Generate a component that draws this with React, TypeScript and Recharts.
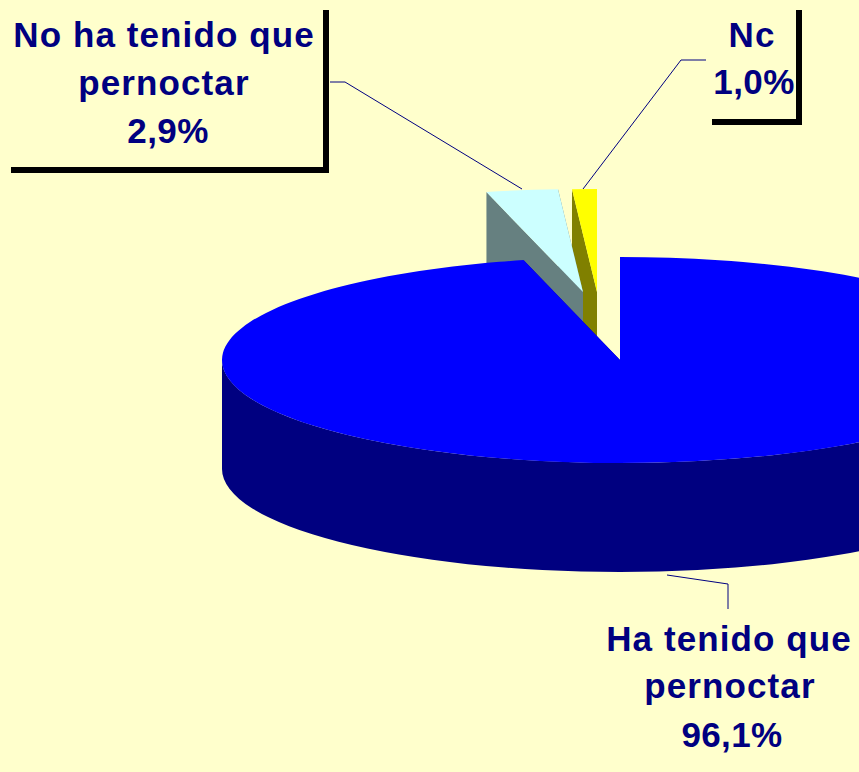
import { PieChart, Pie } from "recharts";

const SLICE_NAMES = ["Nc", "No ha tenido que pernoctar", "Ha tenido que pernoctar"];
const SLICE_VALUES = [1.0, 2.9, 96.1];
const LABEL_LINES = [["Nc"], ["No ha tenido que", "pernoctar"], ["Ha tenido que", "pernoctar"]];

const TOP_COLORS = ["#FFFF00", "#CCFFFF", "#0000FF"];
const SIDE_COLORS = ["#808000", "#668080", "#000080"];
const BG = "#FFFFCC";
const NAVY = "#000080";

// flattening of the fake 3D disc
const RX = 398;
const RY = 103;
const DEPTH = 109;
const CX = 620;
const CY = 360;

// how far the pulled out slices sit from the disc
const EXPLODE = [
  { dx: -23, dy: -68 },
  { dx: -37, dy: -68 },
  { dx: 0, dy: 0 },
];

const LABEL_LAYOUT = [
  {
    xs: [752, 754],
    baselines: [47, 94],
    leader: "706,60 681,60 583,189",
    frame: "799,10 799,122 712,122",
  },
  {
    xs: [164, 164, 168],
    baselines: [47, 95, 143],
    leader: "330,82 345,82 522,189",
    frame: "326,10 326,170 11,170",
  },
  {
    xs: [729, 730, 732],
    baselines: [651, 698, 747],
    leader: "667,575 728,584 728,609",
    frame: "",
  },
];

const pieData = SLICE_NAMES.map((name, i) => ({
  name,
  value: SLICE_VALUES[i],
  fill: TOP_COLORS[i],
}));

const rad = (deg: number) => (deg * Math.PI) / 180;
const px = (cx: number, a: number) => cx + RX * Math.cos(rad(a));
const py = (cy: number, a: number) => cy - RY * Math.sin(rad(a));

function DiscSlice(props: any) {
  const { cx, cy, startAngle, endAngle, index, fill } = props;
  const i = index ?? SLICE_NAMES.indexOf(props.name);
  const off = EXPLODE[i];
  const side = SIDE_COLORS[i];
  const large = endAngle - startAngle > 180 ? 1 : 0;

  const top = `M${cx},${cy} L${px(cx, startAngle)},${py(cy, startAngle)} A${RX},${RY} 0 ${large} 0 ${px(cx, endAngle)},${py(cy, endAngle)} Z`;

  const wall = (a: number) =>
    `M${cx},${cy} L${px(cx, a)},${py(cy, a)} L${px(cx, a)},${py(cy, a) + DEPTH} L${cx},${cy + DEPTH} Z`;

  // front part of the rim, only where the slice crosses the lower half
  const a0 = Math.max(startAngle, 180);
  const a1 = Math.min(endAngle, 360);
  let rim = "";
  if (a1 > a0) {
    const x0 = px(cx, a0);
    const y0 = py(cy, a0);
    const x1 = px(cx, a1);
    const y1 = py(cy, a1);
    rim = `M${x0},${y0} A${RX},${RY} 0 0 0 ${x1},${y1} L${x1},${y1 + DEPTH} A${RX},${RY} 0 0 1 ${x0},${y0 + DEPTH} Z`;
  }

  return (
    <g transform={`translate(${off.dx},${off.dy})`}>
      <path d={wall(startAngle)} fill={side} />
      <path d={wall(endAngle)} fill={side} />
      {rim && <path d={rim} fill={side} />}
      <path d={top} fill={fill} />
    </g>
  );
}

function SliceLabel(props: any) {
  const { index, value } = props;
  const layout = LABEL_LAYOUT[index];
  const lines = [...LABEL_LINES[index], `${value.toFixed(1).replace(".", ",")}%`];
  return (
    <g>
      <polyline points={layout.leader} fill="none" stroke={NAVY} strokeWidth={1} />
      {layout.frame && <polyline points={layout.frame} fill="none" stroke="#000" strokeWidth={6} />}
      {lines.map((line, k) => (
        <text
          key={k}
          x={layout.xs[k]}
          y={layout.baselines[k]}
          textAnchor="middle"
          fontFamily="'Liberation Sans', Arial, sans-serif"
          fontWeight="bold"
          fontSize={35}
          fill={NAVY}
          letterSpacing={k === lines.length - 1 ? 0.4 : 1.1}
        >
          {line}
        </text>
      ))}
    </g>
  );
}

export default function App() {
  return (
    <div style={{ position: "absolute", left: 0, top: 0, width: 859, height: 772, overflow: "hidden", background: BG }}>
      <PieChart width={859} height={772} margin={{ top: 0, right: 0, bottom: 0, left: 0 }}>
        <Pie
          data={pieData}
          dataKey="value"
          nameKey="name"
          cx={CX}
          cy={CY}
          innerRadius={0}
          outerRadius={RX}
          startAngle={90}
          endAngle={450}
          stroke="none"
          shape={DiscSlice}
          label={SliceLabel}
          labelLine={false}
          isAnimationActive={false}
        />
      </PieChart>
    </div>
  );
}
